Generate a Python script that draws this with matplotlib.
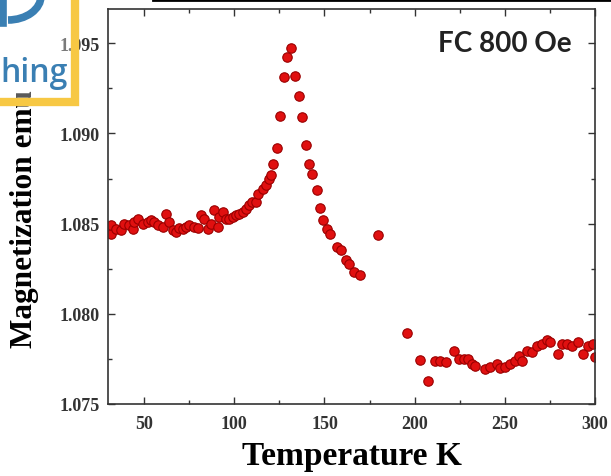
import matplotlib
matplotlib.use('Agg')
import matplotlib.pyplot as plt
from matplotlib.patches import Rectangle, Arc
from matplotlib.lines import Line2D
from matplotlib.ticker import MultipleLocator

# temperature (K) and magnetization (emu)
temp = [31.7, 31.7, 34.5, 37.3, 39.1, 41.9, 43.8, 44.6, 46.5, 49.3,
        52.0, 53.9, 55.7, 57.6, 60.3, 62.2, 64.0, 65.9, 67.7, 69.5,
        71.4, 73.2, 75.1, 77.8, 79.7, 81.5, 83.4, 85.2, 87.1, 88.9,
        90.8, 91.6, 93.5, 95.4, 97.2, 99.1, 100.9, 102.7, 104.6, 106.4,
        108.2, 110.1, 111.9, 112.9, 115.7, 117.5, 119.3, 120.2,
        121.5, 123.6, 125.4, 127.3, 129.5, 131.7, 133.7, 135.7, 137.4,
        140.0, 141.6, 143.3, 146.1, 147.5, 149.4, 151.6, 153.0,
        156.7, 159.0, 161.7, 163.6, 166.3, 169.6,
        179.6, 195.5, 203.2, 207.3,
        211.5, 214.3, 217.6, 221.6, 224.4, 227.2, 229.4, 231.8, 233.6,
        239.2, 241.9, 245.6, 247.5, 250.2, 253.0, 255.8, 258.1, 259.5,
        262.2, 265.0, 267.8, 270.5, 273.3, 275.1, 279.7, 281.6, 284.3,
        287.1, 290.8, 293.5, 296.3, 299.1, 300.0]
mag = [1.08444, 1.08491, 1.08472, 1.08463, 1.08500, 1.08491, 1.08472, 1.08509, 1.08528, 1.08500,
       1.08509, 1.08518, 1.08509, 1.08491, 1.08482, 1.08556, 1.08509, 1.08463, 1.08454, 1.08476,
       1.08472, 1.08482, 1.08491, 1.08482, 1.08476, 1.08546, 1.08528, 1.08472, 1.08500, 1.08574,
       1.08482, 1.08537, 1.08565, 1.08528, 1.08528, 1.08537, 1.08546, 1.08556, 1.08565, 1.08583,
       1.08602, 1.08621, 1.08621, 1.08667, 1.08694, 1.08713, 1.08750, 1.08768,
       1.08830, 1.08920, 1.09098, 1.09315, 1.09426, 1.09476, 1.09320, 1.09207, 1.09089,
       1.08935, 1.08830, 1.08774, 1.08685, 1.08587, 1.08522, 1.08472, 1.08444,
       1.08371, 1.08352, 1.08296, 1.08278, 1.08232, 1.08217,
       1.08439, 1.07893, 1.07746, 1.07629,
       1.07741, 1.07741, 1.07732, 1.07796, 1.07750, 1.07750, 1.07750, 1.07722, 1.07709,
       1.07694, 1.07704, 1.07722, 1.07698, 1.07704, 1.07722, 1.07741, 1.07768, 1.07741,
       1.07796, 1.07787, 1.07824, 1.07833, 1.07852, 1.07843, 1.07778, 1.07833, 1.07833,
       1.07824, 1.07843, 1.07778, 1.07824, 1.07833, 1.07759]

serif = 'Liberation Serif'

fig = plt.figure(figsize=(6.11, 4.77), dpi=100)
ax = fig.add_axes([0.1768, 0.151, 0.797, 0.828])

ax.plot(temp, mag, 'o', ms=6.8, mfc='#e01010', mec='#9a0000', mew=0.8)

ax.set_xlim(30, 300)
ax.set_ylim(1.075, 1.0969)
ax.xaxis.set_major_locator(MultipleLocator(50))
ax.xaxis.set_minor_locator(MultipleLocator(25))
ax.yaxis.set_major_locator(MultipleLocator(0.005))
ax.yaxis.set_minor_locator(MultipleLocator(0.0025))
ax.yaxis.set_major_formatter(plt.FormatStrFormatter('%.3f'))

for s in ax.spines.values():
    s.set_linewidth(1.2)
    s.set_color('#333333')
ax.tick_params(which='both', direction='in', top=True, right=True, color='#333333', width=1.0)
ax.tick_params(which='major', length=5, pad=6)
ax.tick_params(axis='x', which='major', pad=8)
ax.tick_params(which='minor', length=3)
for lab in ax.get_xticklabels() + ax.get_yticklabels():
    lab.set_fontfamily(serif)
    lab.set_fontweight('bold')
    lab.set_fontsize(13)
    lab.set_color('#333333')

ax.set_xlabel('Temperature K', fontfamily=serif, fontweight='bold', fontsize=24, labelpad=6)
ax.set_ylabel('Magnetization emu', fontfamily=serif, fontweight='bold', fontsize=22.5)
ax.yaxis.set_label_coords(-0.142, 0.47)

ax.text(0.953, 0.915, 'FC 800 Oe', transform=ax.transAxes, ha='right', va='center',
        fontfamily='Lato', fontweight='bold', fontsize=20, color='#222222')

# black line along the top edge of the image
fig.add_artist(Line2D([153 / 611, 1], [0.998, 0.998], color='black', lw=2))

# watermark fragment in the corner
W, H = 611, 477
fig.add_artist(Rectangle((-10 / W, 1 - 103 / H), 85 / W, 113 / H, transform=fig.transFigure,
                         facecolor='white', alpha=0.35, edgecolor='none', zorder=10))
fig.add_artist(Rectangle((-10 / W, 1 - 103 / H), 85 / W, 113 / H, transform=fig.transFigure,
                         facecolor='none', edgecolor='#f7c844', lw=6, zorder=10))
fig.text(0, 1 - 82 / H, 'hing', ha='left', va='baseline', fontfamily='Open Sans',
         fontweight='semibold', fontsize=23, color='#3a7fb3', zorder=11)
fig.add_artist(Arc((8 / W, 1 + 3 / H), 66 / W, 48 / H, theta1=270, theta2=360,
                   transform=fig.transFigure, color='#3a7fb3', lw=5.5, zorder=11))
fig.add_artist(Line2D([3 / W, 3 / W], [1 - 24 / H, 1], color='#3a7fb3', lw=5.5, zorder=11))

fig.savefig('out.png', dpi=100)
